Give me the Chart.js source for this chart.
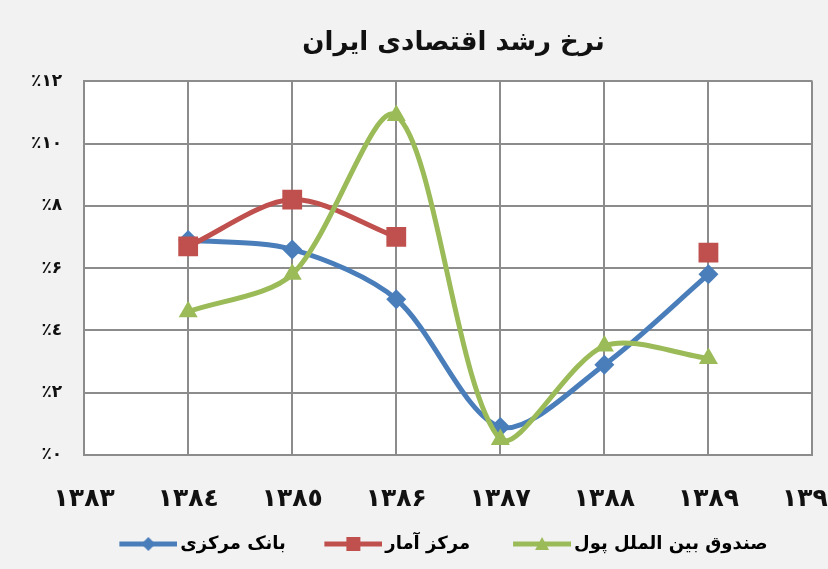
<!DOCTYPE html>
<html>
<head>
<meta charset="utf-8">
<script src="https://cdn.jsdelivr.net/npm/chart.js@4/dist/chart.umd.min.js"></script>
<style>
  html, body { margin: 0; padding: 0; background: #f2f2f2; overflow: hidden; }
  #wrap { width: 828px; height: 569px; overflow: hidden; }
</style>
</head>
<body>
<div id="wrap"><canvas id="chart" width="872" height="569"></canvas></div>
<script>
// years (x axis) and values in percent
const years = ['۱۳۸۳', '۱۳۸٤', '۱۳۸٥', '۱۳۸۶', '۱۳۸۷', '۱۳۸۸', '۱۳۸۹', '۱۳۹۰'];
const bankMarkazi = [null, 6.9, 6.6, 5.0, 0.9, 2.9, 5.8, null];
const markazAmar = [null, 6.7, 8.2, 7.0, null, null, 6.5, null];
const sandoogh = [null, 4.6, 5.8, 10.9, 0.5, 3.5, 3.1, null];
const yTicks = ['٪۰', '٪۲', '٪٤', '٪۶', '٪۸', '٪۱۰', '٪۱۲'];

const FONT = '"DejaVu Sans", sans-serif';
// spacing after legend texts (trailing spaces)
const gaps = ['\u2003\u2005', '\u2003\u2002', ''];

// legend icon: a short line with the marker in the middle
function legendIcon(color, style) {
  const c = document.createElement('canvas');
  c.width = 70; c.height = 20;
  const g = c.getContext('2d');
  const cx = 41;
  g.strokeStyle = color;
  g.lineWidth = 5;
  g.beginPath();
  g.moveTo(12, 10); g.lineTo(70, 10);
  g.stroke();
  g.fillStyle = color;
  g.beginPath();
  if (style === 'rect') {
    g.rect(cx - 7, 10 - 7, 14, 14);
  } else if (style === 'rectRot') {
    g.moveTo(cx, 3); g.lineTo(cx + 7, 10); g.lineTo(cx, 17); g.lineTo(cx - 7, 10);
  } else {
    g.moveTo(cx, 3); g.lineTo(cx + 7, 16); g.lineTo(cx - 7, 16);
  }
  g.closePath();
  g.fill();
  return c;
}

const plotBg = {
  id: 'plotBg',
  beforeDraw(chart) {
    const { ctx, chartArea: a } = chart;
    ctx.save();
    ctx.fillStyle = '#ffffff';
    ctx.fillRect(a.left, a.top, a.right - a.left, a.bottom - a.top);
    ctx.restore();
  }
};

const series = [
  { label: 'بانک مرکزی', data: bankMarkazi, color: '#4a7ebb', style: 'rectRot', r: 10, order: 2 },
  { label: 'مرکز آمار', data: markazAmar, color: '#c0504d', style: 'rect', r: 14, order: 1 },
  { label: 'صندوق بین الملل پول', data: sandoogh, color: '#9bbb59', style: 'triangle', r: 11, order: 0 }
];

new Chart(document.getElementById('chart'), {
  type: 'line',
  data: {
    labels: years,
    datasets: series.map(s => ({
      label: s.label,
      data: s.data,
      order: s.order,
      borderColor: s.color,
      backgroundColor: s.color,
      borderWidth: 5,
      tension: 0.3,
      pointStyle: s.style,
      pointRadius: s.r,
      pointBorderWidth: 0,
      spanGaps: false,
      fill: false
    }))
  },
  options: {
    responsive: false,
    animation: false,
    layout: { padding: { top: 18, left: 9, right: 0, bottom: 6 } },
    plugins: {
      title: {
        display: true,
        text: '\u2003' + 'نرخ رشد اقتصادی ایران',
        color: '#111',
        font: { family: FONT, size: 26, weight: 'bold' },
        padding: { top: 10, bottom: 22 }
      },
      legend: {
        position: 'bottom',
        labels: {
          usePointStyle: true,
          pointStyleWidth: 58,
          color: '#1a1a1a',
          padding: 10,
          font: { family: FONT, size: 18, weight: 'bold' },
          generateLabels(chart) {
            return series.map((s, i) => ({
              text: s.label + gaps[i],
              pointStyle: legendIcon(s.color, s.style),
              fillStyle: s.color,
              strokeStyle: s.color,
              lineWidth: 0,
              hidden: false,
              datasetIndex: i
            }));
          }
        }
      },
      tooltip: { enabled: false }
    },
    scales: {
      x: {
        offset: false,
        afterFit: (scale) => { scale.height -= 18; },
        grid: { color: '#8c8c8c', lineWidth: 2, drawTicks: false },
        border: { color: '#8c8c8c', width: 2 },
        ticks: {
          color: '#111',
          padding: 29,
          maxRotation: 0,
          autoSkip: false,
          font: { family: FONT, size: 25, weight: 'bold' }
        }
      },
      y: {
        min: 0,
        max: 12,
        grid: { color: '#8c8c8c', lineWidth: 2, drawTicks: false },
        border: { color: '#8c8c8c', width: 2 },
        ticks: {
          stepSize: 2,
          color: '#111',
          padding: 22,
          font: { family: FONT, size: 17, weight: 'bold' },
          callback: (v) => yTicks[v / 2]
        }
      }
    }
  },
  plugins: [plotBg]
});
</script>
</body>
</html>
